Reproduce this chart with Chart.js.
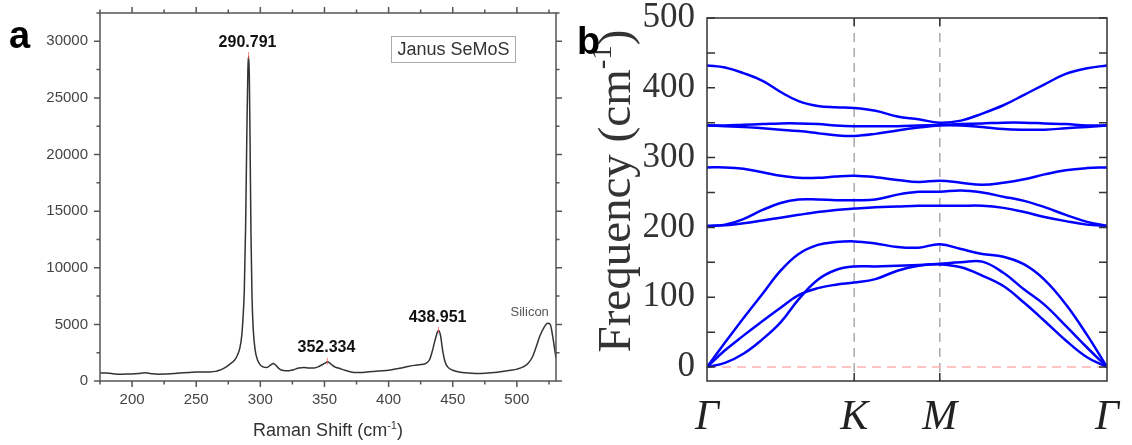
<!DOCTYPE html>
<html lang="en">
<head>
<meta charset="UTF-8">
<title>Janus SeMoS - Raman spectrum and phonon dispersion</title>
<script src="https://cdn.jsdelivr.net/npm/chart.js"></script>
<style>
  body { margin: 0; background: #fff; width: 1132px; height: 445px; overflow: hidden; position: relative; }
  .panel { position: absolute; top: 0; height: 445px; }
  #wrapA { left: 0; width: 570px; }
  #wrapB { left: 570px; width: 562px; }
  .letter { position: absolute; font-family: "Liberation Sans", Arial, sans-serif; font-weight: bold; font-size: 38px; line-height: 1; color: #000; }
</style>
</head>
<body>
<div class="panel" id="wrapA"><canvas id="raman"></canvas></div>
<div class="panel" id="wrapB"><canvas id="phonon"></canvas></div>
<div class="letter" style="left:9px; top:16px">a</div>
<div class="letter" style="left:577px; top:22px">b</div>

<script>
// ---------- panel a : Raman spectrum ----------
const ramanShift = [175, 180, 185, 190, 195, 200, 205, 210, 215, 220, 225, 230, 235, 240, 245, 250, 255, 260, 265, 268,
  271, 274, 277, 280, 282, 284, 285.5, 286.5, 287.5, 288.5, 289.5, 290.3, 290.8, 291.4, 292, 292.7, 293.5, 294.5, 296, 298,
  300, 302, 305, 308, 310, 312, 315, 318, 322, 326, 330, 334, 338, 342, 346, 350, 352.5, 355, 358, 362,
  366, 370, 375, 380, 385, 390, 395, 400, 405, 410, 415, 420, 425, 429, 432, 434, 436, 438, 439, 440.5,
  442, 444, 446, 450, 455, 460, 465, 470, 475, 480, 485, 490, 495, 500, 505, 509, 512, 515, 518, 521,
  524, 526, 528, 530.5];
const ramanCounts = [720, 700, 650, 590, 610, 620, 660, 720, 650, 600, 610, 640, 680, 720, 760, 800, 790, 800, 850, 950,
  1100, 1300, 1550, 1850, 2250, 2900, 4000, 5600, 8000, 13500, 22000, 27500, 28700, 27000, 21000, 13000, 7500, 4500, 2700, 1800,
  1400, 1250, 1200, 1400, 1550, 1400, 1050, 920, 900, 1000, 1150, 1200, 1150, 1150, 1300, 1550, 1700, 1500, 1250, 1100,
  950, 820, 740, 760, 820, 870, 900, 950, 1050, 1150, 1280, 1380, 1450, 1550, 1900, 2600, 3500, 4300, 4450, 4000,
  2800, 1700, 1250, 950, 800, 720, 680, 660, 680, 720, 780, 860, 950, 1050, 1250, 1600, 2100, 3000, 4000, 4700,
  5100, 5000, 3900, 2000];
const shiftTicks = [200, 250, 300, 350, 400, 450, 500];
const countTicks = [0, 5000, 10000, 15000, 20000, 25000, 30000];
const peakNames = ['290.791', '352.334', '438.951'];
const peakShift = [290.791, 352.334, 438.951];
const peakCounts = [28700, 1700, 4450];
const labelCounts = [29850, 2960, 5610];

// ---------- panel b : phonon dispersion ----------
const kDist = [0, 0.045, 0.091, 0.139, 0.184, 0.229, 0.277, 0.322, 0.368, 0.421, 0.476,
  0.529, 0.582, 0.635, 0.688, 0.741, 0.793, 0.844, 0.897, 0.950, 1];
const kMarks = [0, 0.368, 0.582, 1];
const kNames = ['\u0393', 'K', 'M', '\u0393'];
const freqTicks = [0, 100, 200, 300, 400, 500];
const band1 = [0, 24, 45, 66, 85, 103, 113, 118, 121, 126, 138, 145, 147, 143, 131, 116, 92, 66, 38, 14, 0];
const band2 = [0, 6, 19, 40, 64, 97, 125, 139, 144, 144, 145, 146, 148, 150, 151, 135, 111, 89, 59, 28, 0];
const band3 = [0, 35, 70, 105, 138, 162, 175, 179, 180, 177, 172, 171, 176, 169, 162, 158, 147, 125, 90, 46, 0];
const band4 = [202, 203, 206, 210, 214, 218, 222, 225, 227, 229, 230, 231, 231, 231, 231, 228, 222, 215, 209, 204, 202];
const band5 = [202, 204, 212, 225, 235, 240, 240, 239, 239, 240, 247, 251, 251, 253, 250, 244, 238, 229, 218, 208, 202];
const band6 = [286, 286, 284, 279, 274, 271, 271, 273, 274, 272, 268, 265, 267, 264, 261, 264, 269, 276, 282, 285, 286];
const band7 = [346, 345, 344, 342, 340, 338, 335, 332, 331, 334, 339, 343, 346, 346, 344, 341, 340, 340, 342, 344, 346];
const band8 = [346, 346, 347, 348, 349, 349, 348, 346, 345, 345, 345, 346, 347, 348, 349, 350, 350, 349, 348, 346, 346];
const band9 = [432, 429, 421, 410, 394, 381, 374, 372, 371, 367, 359, 355, 350, 353, 363, 375, 390, 405, 420, 428, 432];

const sans = '"Liberation Sans", Arial, sans-serif';
const serif = '"Liberation Serif", "Times New Roman", serif';

// text with a superscript piece, centred on (x, y)
function supText(ctx, before, sup, after, x, y, size, family) {
  const main = size + 'px ' + family;
  const small = Math.round(size * 0.62) + 'px ' + family;
  ctx.font = main;
  const w1 = ctx.measureText(before).width, w3 = ctx.measureText(after).width;
  ctx.font = small;
  const w2 = ctx.measureText(sup).width;
  let cx = x - (w1 + w2 + w3) / 2;
  ctx.textAlign = 'left';
  ctx.textBaseline = 'alphabetic';
  ctx.font = main; ctx.fillText(before, cx, y); cx += w1;
  ctx.font = small; ctx.fillText(sup, cx, y - size * 0.4); cx += w2;
  ctx.font = main; ctx.fillText(after, cx, y);
}

// keep the plot box where it is in the figure, whatever the label overhang
function noOverhang(s) {
  s.paddingTop = 0; s.paddingBottom = 0; s.paddingLeft = 0; s.paddingRight = 0;
}

const ramanFrame = {
  id: 'ramanFrame',
  afterDraw(chart) {
    const { ctx, chartArea: a, scales: { x, y } } = chart;
    ctx.save();
    ctx.strokeStyle = '#555';
    ctx.lineWidth = 1.5;
    ctx.strokeRect(a.left, a.top, a.right - a.left, a.bottom - a.top);
    ctx.beginPath();
    for (let v = 175; v <= 530; v += 25) {
      const px = x.getPixelForValue(v);
      const len = v % 50 === 0 ? 6 : 3.5;
      ctx.moveTo(px, a.bottom); ctx.lineTo(px, a.bottom + len);
      ctx.moveTo(px, a.top); ctx.lineTo(px, a.top - len);
    }
    for (let v = 0; v <= 32500; v += 2500) {
      const py = y.getPixelForValue(v);
      const len = v % 5000 === 0 ? 6 : 3.5;
      ctx.moveTo(a.left, py); ctx.lineTo(a.left - len, py);
      ctx.moveTo(a.right, py); ctx.lineTo(a.right + len, py);
    }
    ctx.stroke();

    // peak markers and labels
    ctx.strokeStyle = 'rgba(255, 90, 90, 0.7)';
    ctx.lineWidth = 1;
    ctx.fillStyle = '#111';
    ctx.font = 'bold 16px ' + sans;
    ctx.textAlign = 'center';
    ctx.textBaseline = 'middle';
    peakNames.forEach((name, i) => {
      const px = x.getPixelForValue(peakShift[i]);
      const py = y.getPixelForValue(peakCounts[i]);
      ctx.beginPath(); ctx.moveTo(px, py - 4); ctx.lineTo(px, py + 3); ctx.stroke();
      ctx.fillText(name, px - 1, y.getPixelForValue(labelCounts[i]));
    });
    ctx.fillStyle = '#555';
    ctx.font = '13px ' + sans;
    ctx.fillText('Silicon', x.getPixelForValue(510), y.getPixelForValue(6090));

    // legend box
    ctx.strokeStyle = '#aaa';
    ctx.strokeRect(391.5, 36.5, 124, 26);
    ctx.fillStyle = '#333';
    ctx.font = '18px ' + sans;
    ctx.fillText('Janus SeMoS', 453.5, 50);

    ctx.fillStyle = '#333';
    supText(ctx, 'Raman Shift (cm', '-1', ')', (a.left + a.right) / 2, 436, 18, sans);
    ctx.restore();
  }
};

const phononFrame = {
  id: 'phononFrame',
  beforeDatasetsDraw(chart) {
    const { ctx, chartArea: a, scales: { x, y } } = chart;
    ctx.save();
    ctx.lineWidth = 1.5;
    ctx.setLineDash([9, 6]);
    ctx.strokeStyle = '#aaa';
    ctx.beginPath();
    [kMarks[1], kMarks[2]].forEach(k => {
      const px = x.getPixelForValue(k);
      ctx.moveTo(px, a.top); ctx.lineTo(px, a.bottom);
    });
    ctx.stroke();
    ctx.strokeStyle = '#ffb3b3';
    ctx.beginPath();
    const p0 = y.getPixelForValue(0);
    ctx.moveTo(a.left, p0); ctx.lineTo(a.right, p0);
    ctx.stroke();
    ctx.restore();
  },
  afterDraw(chart) {
    const { ctx, chartArea: a, scales: { x, y } } = chart;
    ctx.save();
    ctx.strokeStyle = '#333';
    ctx.lineWidth = 1.5;
    ctx.strokeRect(a.left, a.top, a.right - a.left, a.bottom - a.top);
    ctx.beginPath();
    for (let v = 0; v <= 500; v += 50) {
      const py = y.getPixelForValue(v);
      ctx.moveTo(a.left, py); ctx.lineTo(a.left + 8, py);
      ctx.moveTo(a.right, py); ctx.lineTo(a.right - 8, py);
    }
    [kMarks[1], kMarks[2]].forEach(k => {
      const px = x.getPixelForValue(k);
      ctx.moveTo(px, a.bottom); ctx.lineTo(px, a.bottom - 8);
      ctx.moveTo(px, a.top); ctx.lineTo(px, a.top + 8);
    });
    ctx.stroke();

    ctx.fillStyle = '#333';
    ctx.translate(46, 191);
    ctx.rotate(-Math.PI / 2);
    supText(ctx, 'Frequency (cm', '-1', ')', 0, 14, 47, serif);
    ctx.restore();
  }
};

new Chart(document.getElementById('raman'), {
  type: 'line',
  data: {
    datasets: [{
      data: ramanShift.map((s, i) => ({ x: s, y: ramanCounts[i] })),
      borderColor: '#333',
      borderWidth: 1.5,
      pointRadius: 0,
      cubicInterpolationMode: 'monotone'
    }]
  },
  options: {
    responsive: true,
    maintainAspectRatio: false,
    animation: false,
    layout: { padding: { top: 13, right: 14, left: 0, bottom: 0 } },
    plugins: { legend: { display: false }, tooltip: { enabled: false } },
    scales: {
      x: {
        type: 'linear', min: 175, max: 530.5,
        afterBuildTicks: s => { s.ticks = shiftTicks.map(v => ({ value: v })); },
        afterFit: s => { s.height = 64; noOverhang(s); },
        grid: { display: false, drawTicks: false },
        border: { display: false },
        ticks: { color: '#444', font: { family: sans, size: 15 }, padding: 10, callback: v => String(v) }
      },
      y: {
        min: 0, max: 32500,
        afterBuildTicks: s => { s.ticks = countTicks.map(v => ({ value: v })); },
        afterFit: s => { s.width = 100; noOverhang(s); },
        grid: { display: false, drawTicks: false },
        border: { display: false },
        ticks: { color: '#444', font: { family: sans, size: 15 }, padding: 12, callback: v => String(v) }
      }
    }
  },
  plugins: [ramanFrame]
});

const bands = [band1, band2, band3, band4, band5, band6, band7, band8, band9];

new Chart(document.getElementById('phonon'), {
  type: 'line',
  data: {
    datasets: bands.map(b => ({
      data: kDist.map((k, i) => ({ x: k, y: b[i] })),
      borderColor: '#0000ff',
      borderWidth: 2.5,
      pointRadius: 0,
      tension: 0.4
    }))
  },
  options: {
    responsive: true,
    maintainAspectRatio: false,
    animation: false,
    layout: { padding: { top: 18, right: 25, left: 0, bottom: 0 } },
    plugins: { legend: { display: false }, tooltip: { enabled: false } },
    scales: {
      x: {
        type: 'linear', min: 0, max: 1,
        afterBuildTicks: s => { s.ticks = kMarks.map(v => ({ value: v })); },
        afterFit: s => { s.height = 64; noOverhang(s); },
        grid: { display: false, drawTicks: false },
        border: { display: false },
        ticks: {
          color: '#222', padding: 12, maxRotation: 0,
          font: { family: serif, size: 42, style: 'italic' },
          callback: (v, i) => kNames[i]
        }
      },
      y: {
        min: -20, max: 500,
        afterBuildTicks: s => { s.ticks = freqTicks.map(v => ({ value: v })); },
        afterFit: s => { s.width = 137; noOverhang(s); },
        grid: { display: false, drawTicks: false },
        border: { display: false },
        ticks: { color: '#333', font: { family: serif, size: 35 }, padding: 12, callback: v => String(v) }
      }
    }
  },
  plugins: [phononFrame]
});
</script>
</body>
</html>
